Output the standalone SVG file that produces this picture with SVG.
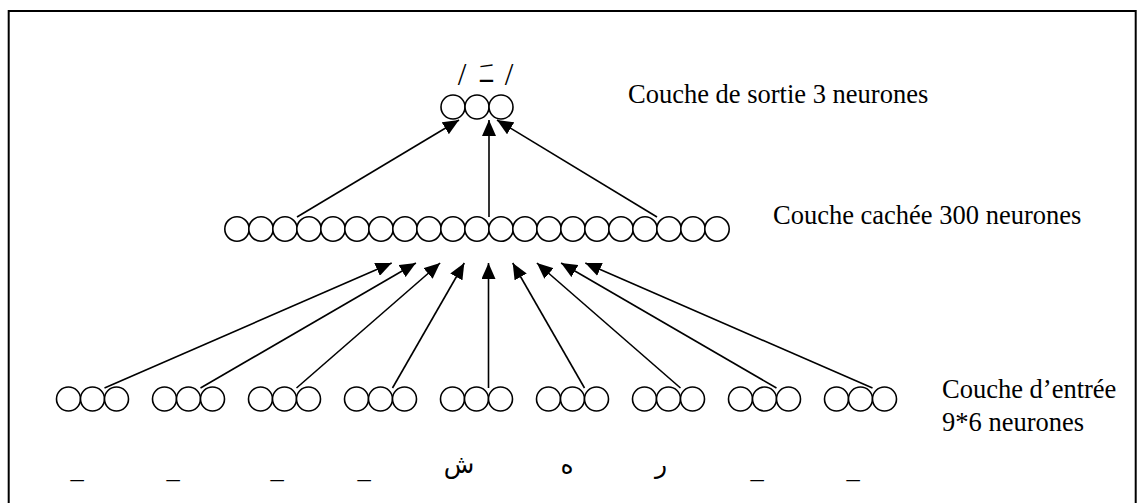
<svg xmlns="http://www.w3.org/2000/svg" width="1137" height="503" viewBox="0 0 1137 503">
  <style>
    .neuron { fill: #fff; stroke: #000; stroke-width: 1.6; }
    .link { stroke: #000; stroke-width: 1.6; fill: none; marker-end: url(#head); }
    .label { font-family: "Liberation Serif", "Times New Roman", serif; font-size: 26.5px; fill: #000; }
    .slash { font-family: "Liberation Serif", "Times New Roman", serif; font-size: 31px; fill: #000; text-anchor: middle; }
    .ar { font-family: "DejaVu Sans", "Liberation Serif", sans-serif; font-size: 25px; fill: #000; text-anchor: middle; }
    .uscore { font-family: "Liberation Serif", serif; font-size: 26.5px; fill: #000; text-anchor: middle; }
  </style>
  <defs>
    <marker id="head" markerUnits="userSpaceOnUse" markerWidth="16" markerHeight="14" refX="16" refY="7" orient="auto">
      <path d="M0,0 L16,7 L0,14 Z" fill="#000"/>
    </marker>
  </defs>

  <rect width="1137" height="503" fill="#fff"/>
  <!-- frame (bottom edge runs past the page) -->
  <rect x="8.7" y="11" width="1127" height="520" fill="none" stroke="#000" stroke-width="2"/>

  <!-- output layer -->
  <g id="output-layer">
    <circle class="neuron" cx="453" cy="107" r="12"/>
    <circle class="neuron" cx="477" cy="107" r="12"/>
    <circle class="neuron" cx="501" cy="107" r="12"/>
    <text class="slash" x="462" y="85">/</text>
    <text class="ar" transform="translate(486.5,82) scale(1.7,1)" x="0" y="0" font-size="27">ـَ</text>
    <text class="slash" x="509" y="85">/</text>
    <text class="label" x="628" y="103">Couche de sortie 3 neurones</text>
  </g>

  <!-- hidden layer: 21 cells drawn -->
  <g id="hidden-layer">
    <circle class="neuron" cx="237" cy="229" r="12.2"/>
    <circle class="neuron" cx="261" cy="229" r="12.2"/>
    <circle class="neuron" cx="285" cy="229" r="12.2"/>
    <circle class="neuron" cx="309" cy="229" r="12.2"/>
    <circle class="neuron" cx="333" cy="229" r="12.2"/>
    <circle class="neuron" cx="357" cy="229" r="12.2"/>
    <circle class="neuron" cx="381" cy="229" r="12.2"/>
    <circle class="neuron" cx="405" cy="229" r="12.2"/>
    <circle class="neuron" cx="429" cy="229" r="12.2"/>
    <circle class="neuron" cx="453" cy="229" r="12.2"/>
    <circle class="neuron" cx="477" cy="229" r="12.2"/>
    <circle class="neuron" cx="501" cy="229" r="12.2"/>
    <circle class="neuron" cx="525" cy="229" r="12.2"/>
    <circle class="neuron" cx="549" cy="229" r="12.2"/>
    <circle class="neuron" cx="573" cy="229" r="12.2"/>
    <circle class="neuron" cx="597" cy="229" r="12.2"/>
    <circle class="neuron" cx="621" cy="229" r="12.2"/>
    <circle class="neuron" cx="645" cy="229" r="12.2"/>
    <circle class="neuron" cx="669" cy="229" r="12.2"/>
    <circle class="neuron" cx="693" cy="229" r="12.2"/>
    <circle class="neuron" cx="717" cy="229" r="12.2"/>
    <text class="label" x="773" y="224">Couche cachée 300 neurones</text>
  </g>

  <!-- input layer: 9 groups of 3 cells -->
  <g id="input-layer">
    <g id="in-1"><circle class="neuron" cx="68.5" cy="399" r="12"/><circle class="neuron" cx="92.5" cy="399" r="12"/><circle class="neuron" cx="116.5" cy="399" r="12"/></g>
    <g id="in-2"><circle class="neuron" cx="164.5" cy="399" r="12"/><circle class="neuron" cx="188.5" cy="399" r="12"/><circle class="neuron" cx="212.5" cy="399" r="12"/></g>
    <g id="in-3"><circle class="neuron" cx="260.5" cy="399" r="12"/><circle class="neuron" cx="284.5" cy="399" r="12"/><circle class="neuron" cx="308.5" cy="399" r="12"/></g>
    <g id="in-4"><circle class="neuron" cx="356.5" cy="399" r="12"/><circle class="neuron" cx="380.5" cy="399" r="12"/><circle class="neuron" cx="404.5" cy="399" r="12"/></g>
    <g id="in-5"><circle class="neuron" cx="452.5" cy="399" r="12"/><circle class="neuron" cx="476.5" cy="399" r="12"/><circle class="neuron" cx="500.5" cy="399" r="12"/></g>
    <g id="in-6"><circle class="neuron" cx="548.5" cy="399" r="12"/><circle class="neuron" cx="572.5" cy="399" r="12"/><circle class="neuron" cx="596.5" cy="399" r="12"/></g>
    <g id="in-7"><circle class="neuron" cx="644.5" cy="399" r="12"/><circle class="neuron" cx="668.5" cy="399" r="12"/><circle class="neuron" cx="692.5" cy="399" r="12"/></g>
    <g id="in-8"><circle class="neuron" cx="740.5" cy="399" r="12"/><circle class="neuron" cx="764.5" cy="399" r="12"/><circle class="neuron" cx="788.5" cy="399" r="12"/></g>
    <g id="in-9"><circle class="neuron" cx="836.5" cy="399" r="12"/><circle class="neuron" cx="860.5" cy="399" r="12"/><circle class="neuron" cx="884.5" cy="399" r="12"/></g>
    <text class="label" x="942" y="398">Couche d’entrée</text>
    <text class="label" x="942" y="431">9*6 neurones</text>
  </g>

  <!-- characters under the input groups -->
  <g id="input-chars">
    <text class="uscore" x="77" y="478">_</text>
    <text class="uscore" x="173" y="478">_</text>
    <text class="uscore" x="277" y="478">_</text>
    <text class="uscore" x="364" y="478">_</text>
    <text class="ar" x="459" y="473" font-size="27">ش</text>
    <text class="ar" x="567" y="474" font-size="22">ه</text>
    <text class="ar" x="661" y="473">ر</text>
    <text class="uscore" x="757" y="478">_</text>
    <text class="uscore" x="853" y="478">_</text>
  </g>

  <!-- connectors -->
  <g id="connectors">
    <line class="link" x1="297" y1="217" x2="459" y2="120"/>
    <line class="link" x1="489" y1="217" x2="489" y2="120"/>
    <line class="link" x1="657" y1="217" x2="497" y2="120"/>

    <line class="link" x1="104.5" y1="388" x2="391.7" y2="263"/>
    <line class="link" x1="200.5" y1="388" x2="415.9" y2="263"/>
    <line class="link" x1="296.5" y1="388" x2="440.1" y2="263"/>
    <line class="link" x1="392.5" y1="388" x2="464.3" y2="263"/>
    <line class="link" x1="488.5" y1="388" x2="488.5" y2="263"/>
    <line class="link" x1="584.5" y1="388" x2="512.7" y2="263"/>
    <line class="link" x1="680.5" y1="388" x2="536.9" y2="263"/>
    <line class="link" x1="776.5" y1="388" x2="561.1" y2="263"/>
    <line class="link" x1="872.5" y1="388" x2="585.3" y2="263"/>
  </g>
</svg>
